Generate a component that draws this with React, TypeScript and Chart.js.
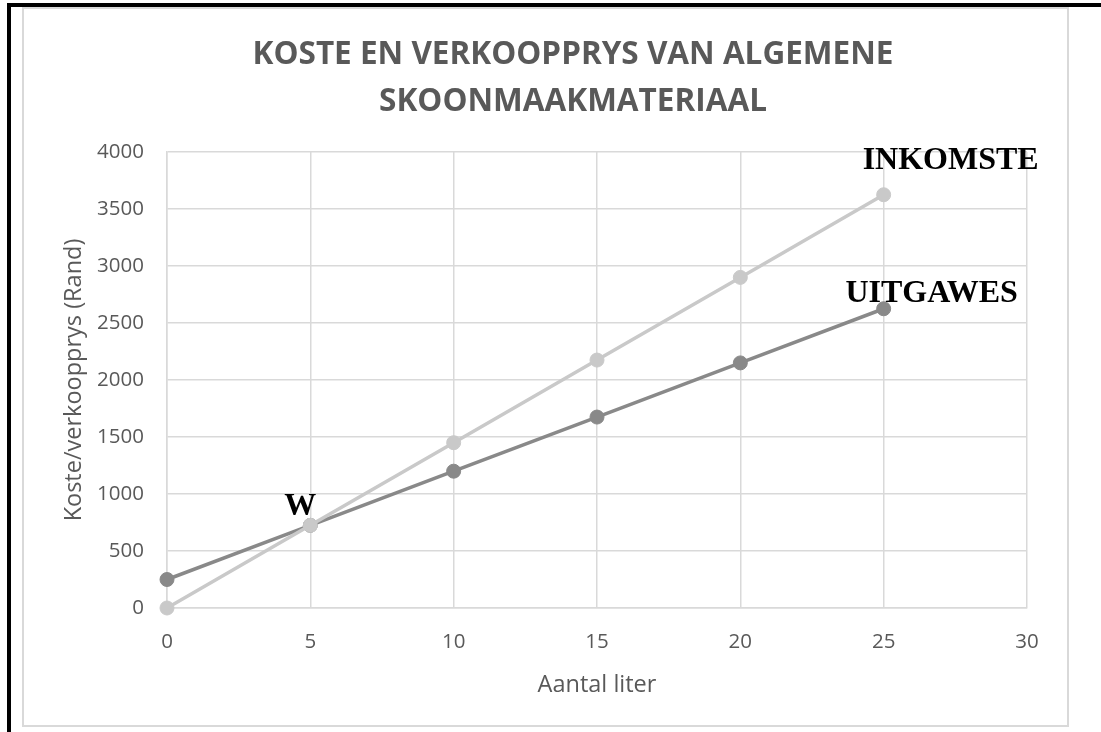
import React, { useEffect, useRef } from "react";
import { Chart, registerables } from "chart.js";

Chart.register(...registerables);

const xValues = [0, 5, 10, 15, 20, 25];
const inkomste = [0, 725, 1450, 2175, 2900, 3625];
const uitgawes = [250, 725, 1200, 1675, 2150, 2625];
const titleLines = ["KOSTE EN VERKOOPPRYS VAN ALGEMENE", "SKOONMAAKMATERIAAL"];
const seriesNames = ["INKOMSTE", "UITGAWES"];
const yTitle = "Koste/verkoopprys (Rand)";
const xTitle = "Aantal liter";

const GRID = "#d9d9d9";
const TEXT = "#595959";

const annotationPlugin = {
  id: "annotations",
  afterDraw(chart: any) {
    const ctx = chart.ctx;
    ctx.save();
    // Title
    ctx.fillStyle = TEXT;
    ctx.font = "bold 31.5px 'Open Sans'";
    ctx.textAlign = "center";
    ctx.textBaseline = "alphabetic";
    ctx.fillText(titleLines[0], 573, 64);
    ctx.fillText(titleLines[1], 573, 111);

    // Series labels
    const xs = chart.scales.x;
    const ys = chart.scales.y;
    ctx.fillStyle = "#000";
    ctx.font = "bold 32px 'Liberation Serif'";
    const li = inkomste.length - 1;
    ctx.fillText(seriesNames[0], xs.getPixelForValue(xValues[li]) + 67, ys.getPixelForValue(inkomste[li]) - 26);
    const lu = uitgawes.length - 1;
    ctx.fillText(seriesNames[1], xs.getPixelForValue(xValues[lu]) + 48, ys.getPixelForValue(uitgawes[lu]) - 7);
    // W at intersection (x = 5)
    ctx.fillText("W", xs.getPixelForValue(xValues[1]) - 10, ys.getPixelForValue(uitgawes[1]) - 10);
    ctx.restore();
  },
};

export default function App() {
  const ref = useRef<HTMLCanvasElement>(null);
  useEffect(() => {
    if (!ref.current) return;
    const chart = new Chart(ref.current, {
      type: "line",
      data: {
        datasets: [
          {
            label: seriesNames[0],
            data: xValues.map((x, i) => ({ x, y: inkomste[i] })),
            borderColor: "#c9c9c9",
            backgroundColor: "#c9c9c9",
            borderWidth: 3.5,
            pointRadius: 7,
            pointBorderWidth: 1,
            pointBorderColor: "#c9c9c9",
            pointBackgroundColor: "#c9c9c9",
            clip: false,
          },
          {
            label: seriesNames[1],
            data: xValues.map((x, i) => ({ x, y: uitgawes[i] })),
            borderColor: "#898989",
            backgroundColor: "#898989",
            borderWidth: 3.5,
            pointRadius: 7,
            pointBorderWidth: 1,
            pointBorderColor: "#898989",
            pointBackgroundColor: "#898989",
            clip: false,
          },
        ],
      },
      options: {
        responsive: false,
        animation: false,
        layout: { padding: { left: 60, top: 152, right: 74, bottom: 33 } },
        plugins: {
          legend: { display: false },
          tooltip: { enabled: false },
          title: { display: false },
        },
        scales: {
          x: {
            type: "linear",
            min: 0,
            max: 30,
            ticks: {
              stepSize: 5,
              color: TEXT,
              font: { family: "'Open Sans'", size: 20.5 },
              padding: 22,
              callback: (v: any) => String(v),
            },
            grid: { color: GRID, lineWidth: 1.5, drawTicks: false },
            border: { color: GRID, width: 1.5 },
            title: { display: true, text: xTitle, color: TEXT, font: { family: "'Open Sans'", size: 23.5 }, padding: 0 },
            afterFit(scale: any) {
              scale.height = 91;
            },
          },
          y: {
            type: "linear",
            min: 0,
            max: 4000,
            ticks: {
              stepSize: 500,
              color: TEXT,
              font: { family: "'Open Sans'", size: 20.5 },
              padding: 23,
              callback: (v: any) => String(v),
            },
            grid: { color: GRID, lineWidth: 1.5, drawTicks: false },
            border: { color: GRID, width: 1.5 },
            title: { display: true, text: yTitle, color: TEXT, font: { family: "'Open Sans'", size: 23.5 }, padding: 0 },
            afterFit(scale: any) {
              scale.width = 107;
            },
          },
        },
      },
      plugins: [annotationPlugin],
    } as any);
    return () => chart.destroy();
  }, []);

  return (
    <div style={{ position: "absolute", left: 0, top: 0, width: 1101, height: 732, background: "#fff", overflow: "hidden" }}>
      <div
        style={{
          position: "absolute",
          left: 22,
          top: 7,
          width: 1047,
          height: 720,
          boxSizing: "border-box",
          border: `2px solid ${GRID}`,
        }}
      />
      <canvas ref={ref} width={1101} height={732} style={{ position: "absolute", left: 0, top: 0, width: 1101, height: 732 }} />
      <div style={{ position: "absolute", left: 7, top: 3, width: 1094, height: 4, background: "#000" }} />
      <div style={{ position: "absolute", left: 7, top: 3, width: 4, height: 729, background: "#000" }} />
    </div>
  );
}
